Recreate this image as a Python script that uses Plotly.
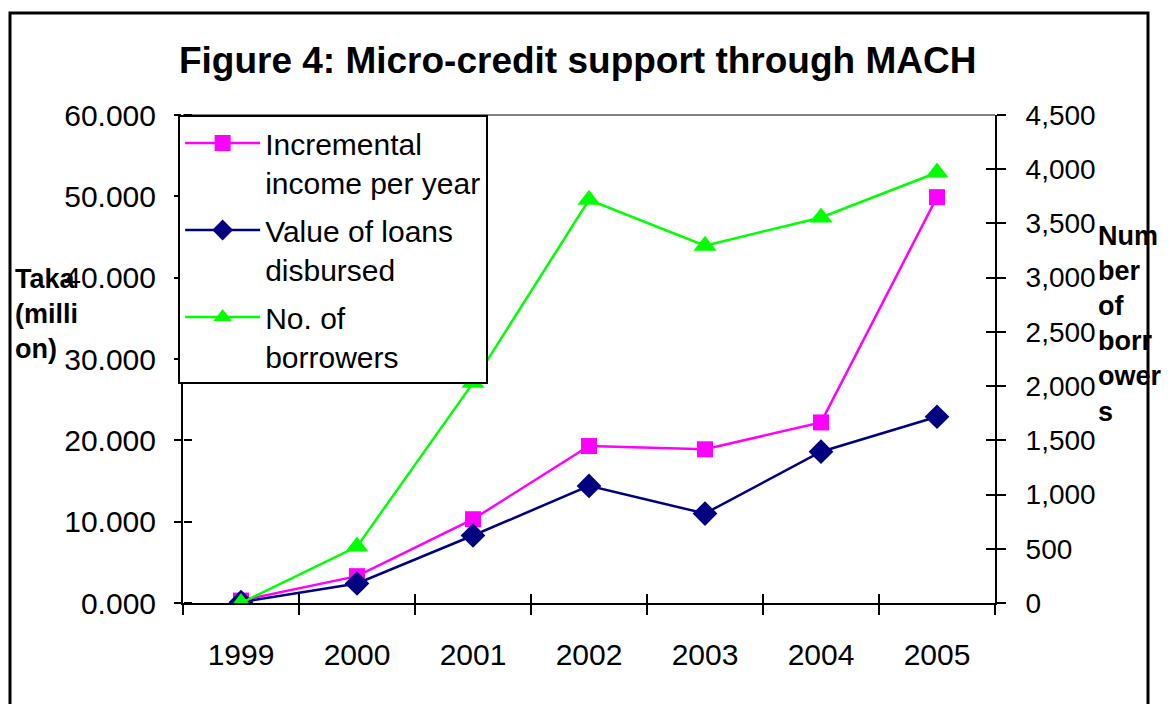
import plotly.graph_objects as go

years = ["1999", "2000", "2001", "2002", "2003", "2004", "2005"]
income = [0.3, 3.3, 10.3, 19.3, 18.9, 22.2, 49.9]
loans = [0.1, 2.4, 8.3, 14.4, 11.0, 18.6, 22.9]
borrowers = [0, 520, 2030, 3718, 3295, 3555, 3970]

FONT = "Liberation Sans, Arial, sans-serif"

W, H = 1165, 696
L, T = 175, 107
PW, PH = 812, 488
TICKIN = "black"
HIDDEN = dict(color="rgba(0,0,0,0)", size=2)

fig = go.Figure()
fig.add_trace(go.Scatter(
    x=years, y=income, name="Incremental<br>income per year", mode="lines+markers",
    line=dict(color="#FF00FF", width=2.5),
    marker=dict(symbol="square", size=16, color="#FF00FF"),
    yaxis="y", legendgroup="a"))
fig.add_trace(go.Scatter(
    x=years, y=loans, name="Value of loans<br>disbursed", mode="lines+markers",
    line=dict(color="#000080", width=2.5),
    marker=dict(symbol="diamond", size=19, color="#000080"),
    yaxis="y", legendgroup="b"))
fig.add_trace(go.Scatter(
    x=years, y=borrowers, name="No. of<br>borrowers", mode="lines+markers",
    line=dict(color="#00FF00", width=2.5),
    marker=dict(symbol="triangle-up", size=20, color="#00FF00"),
    yaxis="y2", legendgroup="c"))

# transparent copies that only serve to draw the inner half of the crossing ticks
fig.add_trace(go.Scatter(x=years, y=income, xaxis="x2", yaxis="y3", mode="lines",
                         opacity=0, showlegend=False, hoverinfo="skip"))
fig.add_trace(go.Scatter(x=years, y=borrowers, xaxis="x2", yaxis="y4", mode="lines",
                         opacity=0, showlegend=False, hoverinfo="skip"))

fig.update_layout(
    width=W, height=H,
    margin=dict(l=L, r=W - L - PW, t=T, b=H - T - PH),
    paper_bgcolor="white", plot_bgcolor="white",
    font=dict(family=FONT, size=30, color="black"),
    title=dict(text="<b>Figure 4: Micro-credit support through MACH</b>",
               x=0.489, xref="container", xanchor="center",
               y=0.925, yref="container", yanchor="middle",
               font=dict(family="Liberation Sans Narrow, Arial Narrow, Liberation Sans", size=37, color="black")),
    xaxis=dict(type="category", categoryorder="array", categoryarray=years,
               range=[-0.5, 6.5], showline=True, linecolor="black", linewidth=2,
               ticks="outside", ticklen=10, tickwidth=2, tickcolor="black",
               tickson="boundaries", showgrid=False, zeroline=False,
               ticklabelstandoff=24, tickfont=dict(size=30)),
    xaxis2=dict(type="category", categoryorder="array", categoryarray=years,
                range=[-0.5, 6.5], overlaying="x", side="bottom", anchor="y4",
                showline=False, ticks="inside", ticklen=9, tickwidth=2,
                tickcolor=TICKIN, tickson="boundaries", showticklabels=True,
                tickfont=HIDDEN, showgrid=False, zeroline=False),
    yaxis=dict(range=[0, 60], dtick=10, tickformat=".3f", showline=True,
               linecolor="black", linewidth=2, ticks="outside", ticklen=7,
               tickwidth=2, tickcolor="black", showgrid=False, zeroline=False,
               ticklabelstandoff=12, tickfont=dict(size=30)),
    yaxis3=dict(range=[0, 60], dtick=10, overlaying="y", side="right",
                anchor="free", position=0,
                ticks="outside", ticklen=8, tickwidth=2, tickcolor=TICKIN,
                showticklabels=True, tickfont=HIDDEN,
                showgrid=False, zeroline=False, showline=False),
    yaxis2=dict(range=[0, 4500], dtick=500, tickformat=",d", overlaying="y",
                side="right", anchor="x", showline=True, linecolor="black",
                linewidth=2, ticks="outside", ticklen=9, tickwidth=2,
                tickcolor="black", showgrid=False, zeroline=False,
                ticklabelstandoff=14, tickfont=dict(size=28)),
    yaxis4=dict(range=[0, 4500], dtick=500, overlaying="y", side="right", anchor="x2",
                ticks="inside", ticklen=9, tickwidth=2, tickcolor=TICKIN,
                showticklabels=True, tickfont=HIDDEN,
                showgrid=False, zeroline=False, showline=False),
    legend=dict(x=-0.006, xanchor="left", y=1.0, yanchor="top",
                bgcolor="white", bordercolor="black", borderwidth=2,
                font=dict(family=FONT, size=30, color="black"),
                itemwidth=75, valign="top", tracegroupgap=6, traceorder="grouped"),
    showlegend=True,
)

# gray top border of plot area
fig.add_shape(type="line", xref="paper", yref="paper", x0=0, x1=1, y0=1, y1=1,
              line=dict(color="#808080", width=2), layer="below")
# outer chart frame
fig.add_shape(type="rect", xref="paper", yref="paper",
              x0=(10 - 8 - L) / PW, x1=(1148 - 8 - L) / PW,
              y0=(PH + T - (13 - 8)) / PH, y1=(PH + T - 740) / PH,
              line=dict(color="black", width=3), layer="below")

fig.add_annotation(text="<b>Taka<br>(milli<br>on)</b>", xref="paper", yref="paper",
                   x=(13 - 8 - L) / PW, xanchor="left", y=(PH + T - (314 - 8)) / PH, yanchor="middle",
                   align="left", showarrow=False,
                   font=dict(family=FONT, size=27, color="black"))
fig.add_annotation(text="<b>Num<br>ber<br>of<br>borr<br>ower<br>s</b>", xref="paper", yref="paper",
                   x=(1096 - 8 - L) / PW, xanchor="left", y=(PH + T - (324 - 8)) / PH, yanchor="middle",
                   align="left", showarrow=False,
                   font=dict(family=FONT, size=27, color="black"))

fig.write_html("out.html")
